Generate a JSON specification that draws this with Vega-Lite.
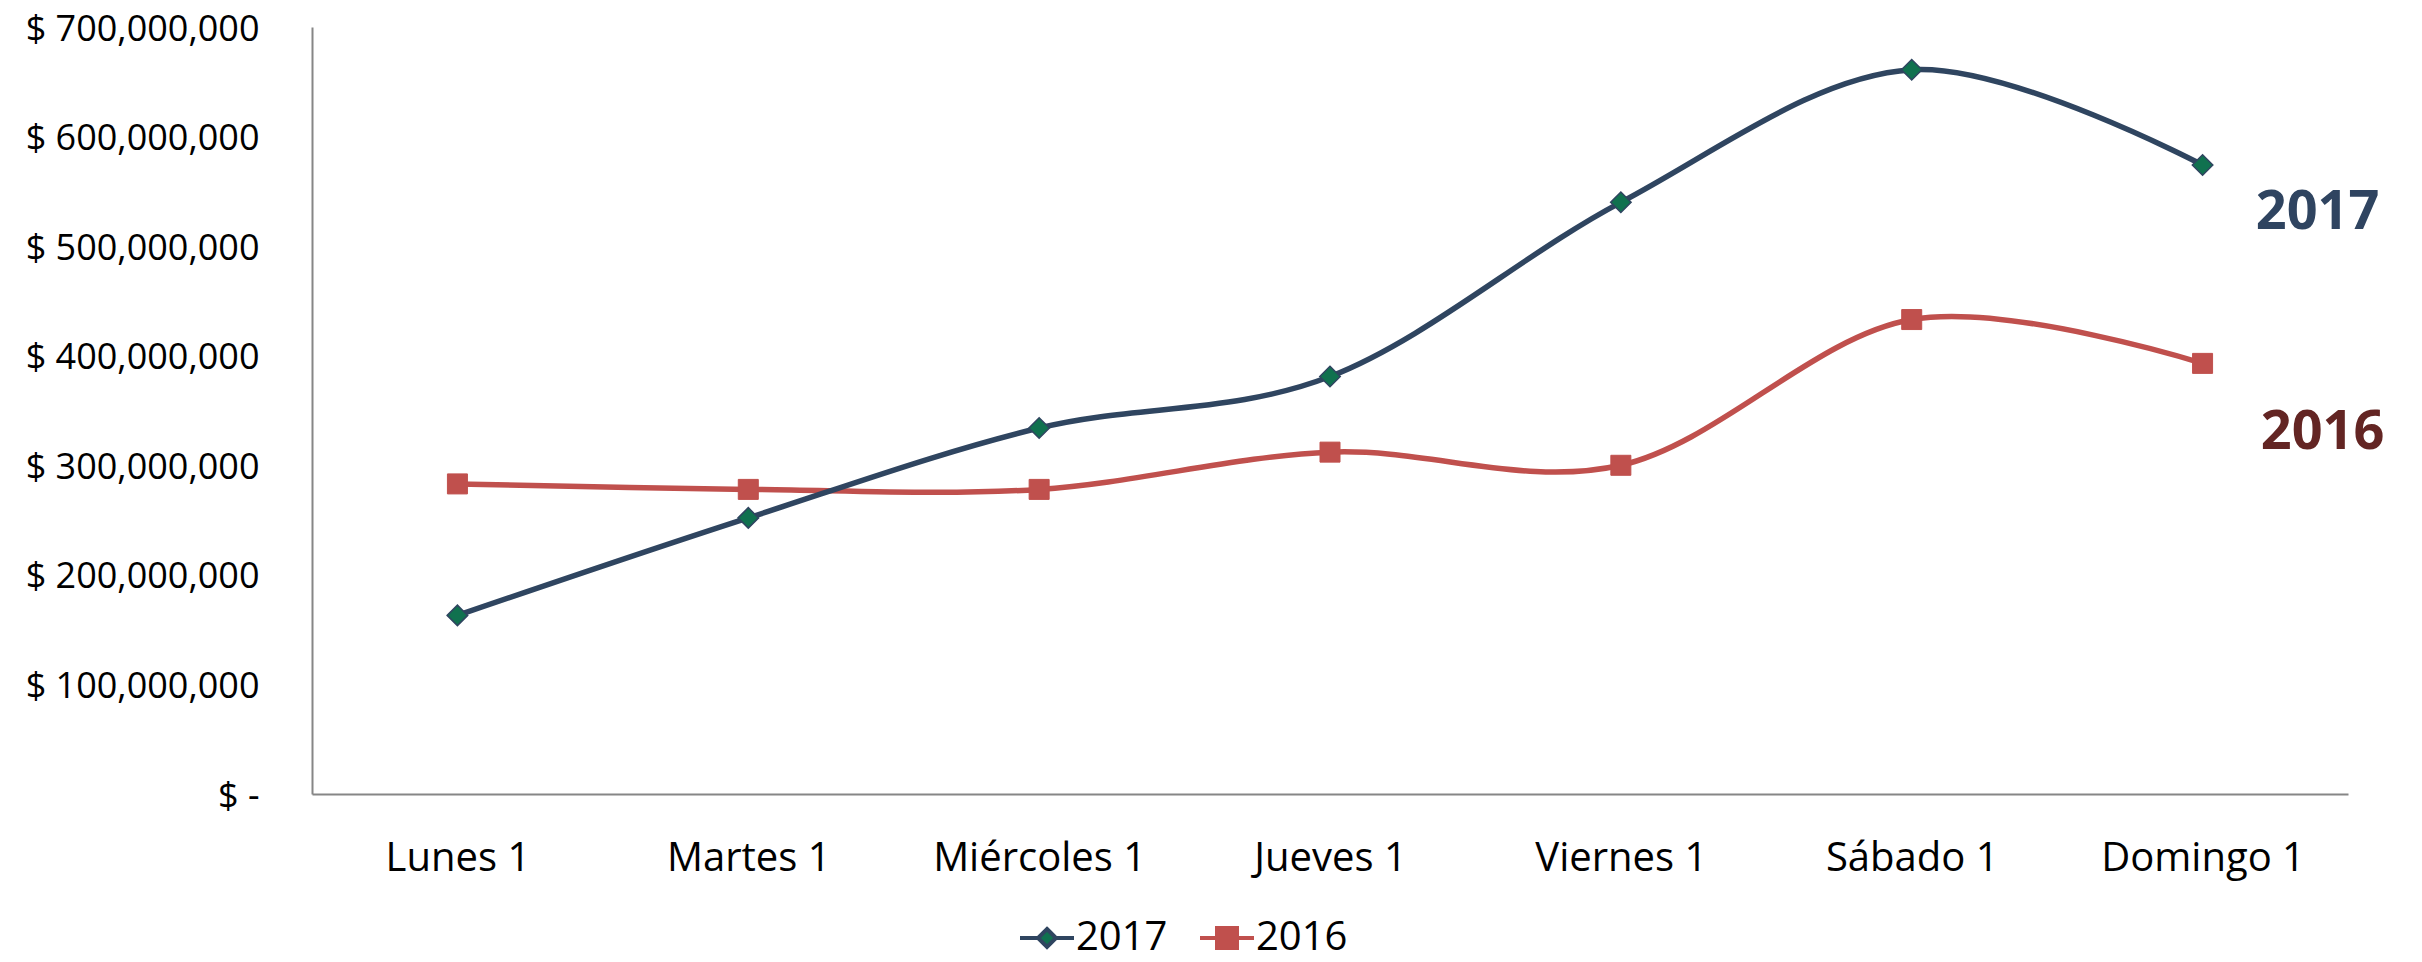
{
  "$schema": "https://vega.github.io/schema/vega-lite/v6.json",
  "width": 2036,
  "height": 767,
  "autosize": {"type": "none"},
  "padding": {"left": 312, "top": 27, "right": 74, "bottom": 168},
  "background": "white",
  "config": {"view": {"stroke": null}, "font": "Open Sans"},
  "data": {
    "values": [
      {"day": "Lunes 1", "year": "2017", "value": 163000000},
      {"day": "Martes 1", "year": "2017", "value": 252000000},
      {"day": "Miércoles 1", "year": "2017", "value": 334000000},
      {"day": "Jueves 1", "year": "2017", "value": 381000000},
      {"day": "Viernes 1", "year": "2017", "value": 540000000},
      {"day": "Sábado 1", "year": "2017", "value": 661000000},
      {"day": "Domingo 1", "year": "2017", "value": 574000000},
      {"day": "Lunes 1", "year": "2016", "value": 283000000},
      {"day": "Martes 1", "year": "2016", "value": 278000000},
      {"day": "Miércoles 1", "year": "2016", "value": 278000000},
      {"day": "Jueves 1", "year": "2016", "value": 312000000},
      {"day": "Viernes 1", "year": "2016", "value": 300000000},
      {"day": "Sábado 1", "year": "2016", "value": 433000000},
      {"day": "Domingo 1", "year": "2016", "value": 393000000}
    ]
  },
  "encoding": {
    "x": {
      "field": "day", "type": "nominal",
      "sort": ["Lunes 1", "Martes 1", "Miércoles 1", "Jueves 1", "Viernes 1", "Sábado 1", "Domingo 1"],
      "scale": {"type": "point", "padding": 0.5},
      "axis": {
        "title": null, "domainColor": "#868686", "domainWidth": 2, "ticks": false, "tickSize": 0,
        "grid": false, "labelFont": "Open Sans", "labelFontSize": 40, "labelColor": "black",
        "labelPadding": 76, "labelBaseline": "alphabetic", "labelAngle": 0, "labelLimit": 0
      }
    },
    "y": {
      "field": "value", "type": "quantitative",
      "scale": {"domain": [0, 700000000], "nice": false, "zero": true},
      "axis": {
        "title": null,
        "values": [0, 100000000, 200000000, 300000000, 400000000, 500000000, 600000000, 700000000],
        "labelExpr": "datum.value == 0 ? '$ -\u00a0\u00a0' : '$ ' + format(datum.value, ',.0f')",
        "domainColor": "#868686", "domainWidth": 2, "ticks": false, "tickSize": 0, "grid": false,
        "labelFont": "Open Sans", "labelFontSize": 36, "labelColor": "black", "labelPadding": 53,
        "labelOffset": 2, "labelOverlap": false, "labelLimit": 0, "labelFlush": false
      }
    }
  },
  "layer": [
    {
      "transform": [{"filter": "datum.year == '2016'"}],
      "mark": {"type": "line", "interpolate": "cardinal", "strokeWidth": 5.5, "color": "#C0504D"}
    },
    {
      "transform": [{"filter": "datum.year == '2017'"}],
      "mark": {"type": "line", "interpolate": "cardinal", "strokeWidth": 5.5, "color": "#2F4560"}
    },
    {
      "transform": [{"filter": "datum.year == '2017'"}],
      "mark": {"type": "point", "shape": "diamond", "filled": true, "fill": "#10714F", "stroke": "#2F4560", "strokeWidth": 1.5, "size": 420, "opacity": 1}
    },
    {
      "transform": [{"filter": "datum.year == '2016'"}],
      "mark": {"type": "point", "shape": "square", "filled": true, "fill": "#C0504D", "stroke": "#C0504D", "strokeWidth": 1, "size": 400, "opacity": 1}
    },
    {
      "transform": [{"filter": "false"}],
      "mark": {"type": "point", "filled": true, "opacity": 1, "strokeWidth": 4},
      "encoding": {
        "shape": {
          "field": "year", "type": "nominal",
          "scale": {"domain": ["2017", "2016"], "range": ["M-3,0H-1M1,0H3M0,-1L1,0L0,1L-1,0Z", "M-3,0H-1.11M1.11,0H3M-1.11,-1.11H1.11V1.11H-1.11Z"]},
          "legend": {"orient": "none", "legendX": 715, "legendY": 891, "direction": "horizontal", "title": null, "symbolSize": 324, "symbolStrokeWidth": 4, "symbolOpacity": 1, "labelFont": "Open Sans", "labelFontSize": 40, "labelColor": "black", "labelOffset": 9, "columnPadding": 24, "padding": 0, "labelLimit": 0}
        },
        "fill": {
          "field": "year", "type": "nominal",
          "scale": {"domain": ["2017", "2016"], "range": ["#10714F", "#C0504D"]},
          "legend": {"orient": "none", "legendX": 715, "legendY": 891, "direction": "horizontal", "title": null, "symbolSize": 324, "symbolStrokeWidth": 4, "symbolOpacity": 1, "labelFont": "Open Sans", "labelFontSize": 40, "labelColor": "black", "labelOffset": 9, "columnPadding": 24, "padding": 0, "labelLimit": 0}
        },
        "stroke": {
          "field": "year", "type": "nominal",
          "scale": {"domain": ["2017", "2016"], "range": ["#2F4560", "#C0504D"]},
          "legend": {"orient": "none", "legendX": 715, "legendY": 891, "direction": "horizontal", "title": null, "symbolSize": 324, "symbolStrokeWidth": 4, "symbolOpacity": 1, "labelFont": "Open Sans", "labelFontSize": 40, "labelColor": "black", "labelOffset": 9, "columnPadding": 24, "padding": 0, "labelLimit": 0}
        }
      }
    },
    {
      "transform": [{"filter": "datum.year == '2017' && datum.day == 'Domingo 1'"}],
      "mark": {"type": "text", "font": "Open Sans", "fontSize": 54, "fontWeight": "bold", "color": "#2F4460", "align": "center", "baseline": "middle", "dx": 115, "dy": 48},
      "encoding": {"text": {"field": "year"}}
    },
    {
      "transform": [{"filter": "datum.year == '2016' && datum.day == 'Domingo 1'"}],
      "mark": {"type": "text", "font": "Open Sans", "fontSize": 54, "fontWeight": "bold", "color": "#632523", "align": "center", "baseline": "middle", "dx": 120, "dy": 70},
      "encoding": {"text": {"field": "year"}}
    }
  ]
}
